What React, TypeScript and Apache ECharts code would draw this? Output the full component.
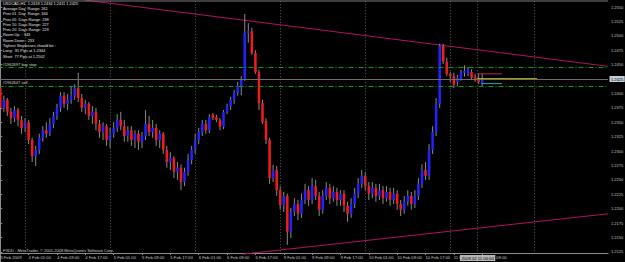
import React, { useEffect, useRef } from "react";
import * as echarts from "echarts";

// ---- data (USDCAD, H1, 3 Feb 2009 17:00 .. 11 Feb 2009 09:00) ----
const opens = [
  1.2409, 1.2375, 1.2389, 1.2368, 1.2357, 1.2371, 1.2354, 1.2340, 1.2350, 1.2319,
  1.2291, 1.2302, 1.2323, 1.2336, 1.2330, 1.2347, 1.2361, 1.2375, 1.2396, 1.2382,
  1.2389, 1.2396, 1.2409, 1.2392, 1.2375, 1.2382, 1.2361, 1.2368, 1.2347, 1.2333,
  1.2343, 1.2319, 1.2330, 1.2340, 1.2354, 1.2343, 1.2326, 1.2336, 1.2319, 1.2330,
  1.2316, 1.2326, 1.2347, 1.2333, 1.2340, 1.2319, 1.2330, 1.2302, 1.2281, 1.2288,
  1.2264, 1.2271, 1.2246, 1.2264, 1.2284, 1.2302, 1.2319, 1.2333, 1.2347, 1.2336,
  1.2363, 1.2359, 1.2354, 1.2342, 1.2368, 1.2378, 1.2389, 1.2401, 1.2411, 1.2425,
  1.2505, 1.2508, 1.2470, 1.2437, 1.2383, 1.2352, 1.2319, 1.2253, 1.2267, 1.2232,
  1.2206, 1.2222, 1.2160, 1.2194, 1.2208, 1.2191, 1.2215, 1.2232, 1.2215, 1.2239,
  1.2222, 1.2198, 1.2222, 1.2236, 1.2218, 1.2229, 1.2215, 1.2226, 1.2205, 1.2191,
  1.2208, 1.2226, 1.2243, 1.2257, 1.2239, 1.2226, 1.2236, 1.2222, 1.2232, 1.2218,
  1.2229, 1.2215, 1.2226, 1.2208, 1.2198, 1.2212, 1.2222, 1.2208, 1.2222, 1.2243,
  1.2267, 1.2257, 1.2302, 1.2333, 1.2382, 1.2482, 1.2455, 1.2434, 1.2430, 1.2420,
  1.2425, 1.2436, 1.2434, 1.2437, 1.2429, 1.2425, 1.2418,
];
const closes = [
  1.2375, 1.2389, 1.2368, 1.2357, 1.2371, 1.2354, 1.2340, 1.2350, 1.2319, 1.2291,
  1.2302, 1.2323, 1.2336, 1.2330, 1.2347, 1.2361, 1.2375, 1.2396, 1.2382, 1.2389,
  1.2396, 1.2409, 1.2392, 1.2375, 1.2382, 1.2361, 1.2368, 1.2347, 1.2333, 1.2343,
  1.2319, 1.2330, 1.2340, 1.2354, 1.2343, 1.2326, 1.2336, 1.2319, 1.2330, 1.2316,
  1.2326, 1.2347, 1.2333, 1.2340, 1.2319, 1.2330, 1.2302, 1.2281, 1.2288, 1.2264,
  1.2271, 1.2246, 1.2264, 1.2284, 1.2302, 1.2319, 1.2333, 1.2347, 1.2336, 1.2359,
  1.2357, 1.2354, 1.2342, 1.2368, 1.2378, 1.2389, 1.2401, 1.2413, 1.2425, 1.2505,
  1.2508, 1.2470, 1.2437, 1.2383, 1.2350, 1.2319, 1.2253, 1.2267, 1.2232, 1.2206,
  1.2222, 1.2160, 1.2194, 1.2208, 1.2191, 1.2215, 1.2232, 1.2215, 1.2239, 1.2222,
  1.2198, 1.2222, 1.2236, 1.2218, 1.2229, 1.2215, 1.2226, 1.2205, 1.2191, 1.2208,
  1.2226, 1.2243, 1.2257, 1.2239, 1.2226, 1.2236, 1.2222, 1.2232, 1.2218, 1.2229,
  1.2215, 1.2226, 1.2208, 1.2198, 1.2212, 1.2222, 1.2208, 1.2222, 1.2243, 1.2267,
  1.2257, 1.2302, 1.2333, 1.2382, 1.2482, 1.2455, 1.2434, 1.2430, 1.2415, 1.2427,
  1.2437, 1.2439, 1.2441, 1.2427, 1.2423, 1.2420, 1.2425,
];
const lows = [
  1.2368, 1.2368, 1.2361, 1.2347, 1.2350, 1.2343, 1.2330, 1.2333, 1.2312, 1.2281,
  1.2274, 1.2295, 1.2316, 1.2323, 1.2326, 1.2340, 1.2354, 1.2368, 1.2375, 1.2371,
  1.2382, 1.2389, 1.2385, 1.2368, 1.2364, 1.2354, 1.2347, 1.2336, 1.2323, 1.2319,
  1.2309, 1.2305, 1.2323, 1.2333, 1.2336, 1.2316, 1.2316, 1.2309, 1.2305, 1.2302,
  1.2305, 1.2319, 1.2326, 1.2323, 1.2309, 1.2305, 1.2295, 1.2271, 1.2267, 1.2253,
  1.2250, 1.2232, 1.2239, 1.2257, 1.2277, 1.2295, 1.2312, 1.2326, 1.2330, 1.2331,
  1.2354, 1.2350, 1.2336, 1.2338, 1.2364, 1.2371, 1.2382, 1.2396, 1.2397, 1.2422,
  1.2488, 1.2467, 1.2434, 1.2371, 1.2347, 1.2312, 1.2243, 1.2246, 1.2222, 1.2198,
  1.2194, 1.2137, 1.2149, 1.2187, 1.2180, 1.2184, 1.2208, 1.2205, 1.2208, 1.2215,
  1.2187, 1.2191, 1.2215, 1.2208, 1.2212, 1.2205, 1.2205, 1.2194, 1.2177, 1.2184,
  1.2201, 1.2218, 1.2236, 1.2232, 1.2215, 1.2218, 1.2212, 1.2215, 1.2208, 1.2212,
  1.2205, 1.2208, 1.2198, 1.2187, 1.2191, 1.2205, 1.2198, 1.2201, 1.2215, 1.2236,
  1.2250, 1.2250, 1.2295, 1.2326, 1.2375, 1.2451, 1.2430, 1.2420, 1.2409, 1.2413,
  1.2422, 1.2429, 1.2430, 1.2423, 1.2420, 1.2416, 1.2411,
];
const highs = [
  1.2415, 1.2396, 1.2392, 1.2375, 1.2378, 1.2375, 1.2361, 1.2357, 1.2354, 1.2323,
  1.2309, 1.2330, 1.2343, 1.2350, 1.2357, 1.2368, 1.2382, 1.2402, 1.2402, 1.2399,
  1.2413, 1.2416, 1.2436, 1.2399, 1.2389, 1.2385, 1.2378, 1.2375, 1.2354, 1.2350,
  1.2347, 1.2340, 1.2350, 1.2364, 1.2368, 1.2354, 1.2343, 1.2343, 1.2336, 1.2336,
  1.2333, 1.2371, 1.2361, 1.2354, 1.2347, 1.2336, 1.2333, 1.2309, 1.2298, 1.2291,
  1.2281, 1.2277, 1.2271, 1.2295, 1.2309, 1.2330, 1.2340, 1.2354, 1.2354, 1.2364,
  1.2366, 1.2363, 1.2357, 1.2371, 1.2382, 1.2394, 1.2406, 1.2420, 1.2430, 1.2538,
  1.2522, 1.2514, 1.2475, 1.2441, 1.2389, 1.2357, 1.2323, 1.2276, 1.2274, 1.2239,
  1.2229, 1.2226, 1.2201, 1.2218, 1.2215, 1.2226, 1.2243, 1.2239, 1.2253, 1.2250,
  1.2229, 1.2232, 1.2246, 1.2243, 1.2239, 1.2236, 1.2232, 1.2232, 1.2212, 1.2218,
  1.2236, 1.2253, 1.2267, 1.2264, 1.2246, 1.2246, 1.2243, 1.2243, 1.2239, 1.2239,
  1.2236, 1.2236, 1.2232, 1.2215, 1.2222, 1.2232, 1.2229, 1.2232, 1.2253, 1.2277,
  1.2281, 1.2312, 1.2343, 1.2392, 1.2486, 1.2486, 1.2462, 1.2437, 1.2436, 1.2432,
  1.2441, 1.2449, 1.2446, 1.2442, 1.2434, 1.2434, 1.2434,
];

const SLOTS = 172; // bar slots visible on screen (data + chart shift)
const timeLabelIdx = [0, 8, 16, 24, 32, 40, 48, 56, 64, 72, 80, 88, 96, 104, 112, 120, 128, 136];
const timeLabels = [
  "3 Feb 2009", "4 Feb 01:00", "4 Feb 09:00", "4 Feb 17:00", "5 Feb 01:00", "5 Feb 09:00",
  "5 Feb 17:00", "6 Feb 01:00", "6 Feb 09:00", "6 Feb 17:00", "9 Feb 01:00", "9 Feb 09:00",
  "9 Feb 17:00", "10 Feb 01:00", "10 Feb 09:00", "10 Feb 17:00", "11 Feb 01:00", "11 Feb 09:00",
];
const priceMin = 1.21;
const priceMax = 1.2575;
const priceStep = 0.0025;
const firstShownPrice = 1.2125;
const lastShownPrice = 1.255;

const bidPrice = 1.2425;
const buyStopPrice = 1.2445;
const sellPrice = 1.2413;
const separators = [7, 31, 55, 79, 103, 127, 134.5, 150.6];
const frameTop = 1.256;
const frameBottom = 1.2123;

const upperTrend = [[23.9, 1.2562], [171.5, 1.2447]];
const lowerTrend = [[68.5, 1.2121], [171.5, 1.2191]];
const dayHighLine = [[134.5, 1.2434], [141.6, 1.2434]];
const closeLine = [[134.5, 1.2425], [151.5, 1.2425]];
const lowLine = [[135.7, 1.2417], [141.6, 1.2417]];

const cursorIdx = 131;
const cursorLabel = "2009.02.11 04:00";

const infoLines = [
  "USDCAD,H1  1.2418 1.2434 1.2411 1.2425",
  "Average Day  Range: 261",
  "Prev 01  Day  Range: 344",
  "Prev 05  Days Range: 238",
  "Prev 10  Days Range: 227",
  "Prev 20  Days Range: 229",
  "Room Up  : 343",
  "Room Down : 233",
  "Tighest Stoplosses should be :",
  "Long:  81 Pips at 1.2344",
  "Short  77 Pips at 1.2502",
];
const copyright = "FXDD - MetaTrader, \u00a9 2001-2008 MetaQuotes Software Corp.";

const FONT = "Liberation Sans, Arial, sans-serif";
const BULL = "#2222ff";
const BEAR = "#ee1c1c";

export default function App() {
  const ref = useRef<HTMLDivElement>(null);

  useEffect(() => {
    if (!ref.current) return;
    const chart = echarts.init(ref.current, null, { renderer: "svg" });

    const categories = Array.from({ length: SLOTS }, (_, i) => String(i));
    const candleData = opens.map((o, i) => [i, o, closes[i], lows[i], highs[i]]);

    const orderLabel = (text: string) => ({
      show: true,
      position: "insideStartTop",
      formatter: text,
      color: "#d8d8d8",
      fontSize: 4,
      fontFamily: FONT,
      distance: [4, 1],
    });

    const markData: any[] = [
      {
        yAxis: bidPrice,
        lineStyle: { color: "#6e6e6e", type: "solid", width: 1 },
        label: {
          show: true,
          position: "end",
          formatter: bidPrice.toFixed(4),
          color: "#000",
          backgroundColor: "#c4ccd4",
          padding: [1, 1.5],
          fontSize: 4,
          fontFamily: FONT,
          distance: 1.5,
        },
      },
      {
        yAxis: buyStopPrice,
        lineStyle: { color: "#129a12", type: [5, 2, 1, 2], width: 1 },
        label: orderLabel("#1962697 buy stop"),
      },
      {
        yAxis: sellPrice,
        lineStyle: { color: "#129a12", type: [5, 2, 1, 2], width: 1 },
        label: orderLabel("#1962647 sell"),
      },
      ...separators.map((s) => [
        { coord: [s, frameTop], lineStyle: { color: "#5c5c5c", type: [1, 2], width: 1 }, label: { show: false } },
        { coord: [s, frameBottom] },
      ]),
    ];

    const option: any = {
      animation: false,
      backgroundColor: "#000000",
      grid: {
        left: -1.5,
        top: -7.4,
        width: 609.5,
        height: 273.6,
        containLabel: false,
        outerBoundsMode: "none",
      },
      xAxis: [
        {
          type: "category",
          data: categories,
          boundaryGap: true,
          position: "bottom",
          offset: -13.2,
          axisLine: { show: true, lineStyle: { color: "#8c8c8c", width: 1 } },
          axisTick: {
            show: true,
            alignWithLabel: true,
            length: 2,
            interval: (idx: number) => timeLabelIdx.indexOf(idx) >= 0,
            lineStyle: { color: "#8c8c8c" },
          },
          axisLabel: {
            show: true,
            interval: (idx: number) => timeLabelIdx.indexOf(idx) >= 0,
            formatter: (_v: string, idx: number) => timeLabels[timeLabelIdx.indexOf(idx)] ?? "",
            align: "left",
            margin: 2.5,
            color: "#c4c4c4",
            fontSize: 4.2,
            fontFamily: FONT,
          },
          splitLine: { show: false },
        },
        {
          type: "value",
          min: -0.5,
          max: SLOTS - 0.5,
          show: false,
          gridIndex: 0,
        },
      ],
      yAxis: {
        type: "value",
        position: "right",
        min: priceMin,
        max: priceMax,
        interval: priceStep,
        axisLine: { show: true, lineStyle: { color: "#8c8c8c", width: 1 } },
        axisTick: { show: true, length: 2, lineStyle: { color: "#8c8c8c" } },
        axisLabel: {
          show: true,
          margin: 3,
          color: "#c4c4c4",
          fontSize: 4,
          fontFamily: FONT,
          showMinLabel: false,
          showMaxLabel: false,
          formatter: (v: number) =>
            Math.abs(v - bidPrice) < 1e-7 || v < firstShownPrice - 1e-7 || v > lastShownPrice + 1e-7
              ? ""
              : v.toFixed(4),
        },
        splitLine: { show: false },
      },
      series: [
        {
          type: "line",
          xAxisIndex: 1,
          data: upperTrend,
          symbol: "none",
          lineStyle: { color: "#b0145c", width: 1 },
          z: 1,
          markLine: {
            silent: true,
            symbol: ["none", "none"],
            precision: 6,
            animation: false,
            data: markData,
          },
        },
        {
          type: "line",
          xAxisIndex: 1,
          data: lowerTrend,
          symbol: "none",
          lineStyle: { color: "#b0145c", width: 1 },
          z: 1,
        },
        {
          type: "custom",
          xAxisIndex: 0,
          data: candleData,
          encode: { x: 0, y: [1, 2, 3, 4] },
          z: 3,
          renderItem: (_p: any, api: any) => {
            const i = api.value(0);
            const o = api.value(1);
            const c = api.value(2);
            const l = api.value(3);
            const h = api.value(4);
            const po = api.coord([i, o]);
            const pc = api.coord([i, c]);
            const pl = api.coord([i, l]);
            const ph = api.coord([i, h]);
            const w = api.size([1, 0])[0] * 0.72;
            const top = Math.min(po[1], pc[1]);
            const ht = Math.max(Math.abs(po[1] - pc[1]), 1);
            return {
              type: "group",
              children: [
                {
                  type: "line",
                  shape: { x1: po[0], y1: ph[1], x2: po[0], y2: pl[1] },
                  style: { stroke: "#8a8a8a", lineWidth: 1 },
                },
                {
                  type: "rect",
                  shape: { x: po[0] - w / 2, y: top, width: w, height: ht },
                  style: { fill: c >= o ? BULL : BEAR },
                },
              ],
            };
          },
        },
        {
          type: "line",
          xAxisIndex: 1,
          data: dayHighLine,
          symbol: "none",
          lineStyle: { color: "#c4245a", width: 1 },
          z: 4,
        },
        {
          type: "line",
          xAxisIndex: 1,
          data: closeLine,
          symbol: "none",
          lineStyle: { color: "#dada00", width: 1.6 },
          z: 4,
        },
        {
          type: "line",
          xAxisIndex: 1,
          data: lowLine,
          symbol: "none",
          lineStyle: { color: "#2aa4b4", width: 1 },
          z: 4,
        },
      ],
    };

    chart.setOption(option);

    const cx = chart.convertToPixel({ xAxisIndex: 1 }, cursorIdx) as number;

    chart.setOption({
      graphic: [
        {
          type: "line",
          shape: { x1: 0, y1: 1, x2: 608, y2: 1 },
          style: { stroke: "#7c7c7c", lineWidth: 1 },
          silent: true,
          z: 10,
        },
        {
          type: "text",
          left: 3,
          top: 0.7,
          silent: true,
          z: 20,
          style: {
            text: infoLines.join("\n"),
            fill: "#e4e4e4",
            fontSize: 3.9,
            lineHeight: 5.27,
            fontFamily: FONT,
          },
        },
        {
          type: "text",
          left: 3,
          top: 248,
          silent: true,
          z: 20,
          style: {
            text: copyright,
            fill: "#d0d0d0",
            fontSize: 4,
            fontFamily: FONT,
          },
        },
        {
          type: "text",
          x: cx - 4.5,
          y: 255,
          silent: true,
          z: 30,
          style: {
            text: cursorLabel,
            fill: "#000",
            backgroundColor: "#b4b4b4",
            padding: [1, 1.5],
            fontSize: 4.2,
            fontFamily: FONT,
            verticalAlign: "top",
            align: "left",
          },
        },
      ],
    });

    return () => chart.dispose();
  }, []);

  return (
    <div
      ref={ref}
      style={{ position: "fixed", left: 0, top: 0, width: 625, height: 262, background: "#000" }}
    />
  );
}
